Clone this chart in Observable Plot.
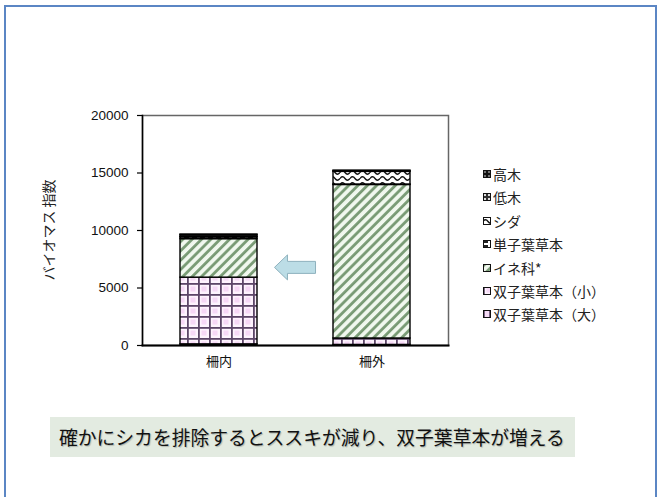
<!DOCTYPE html>
<html>
<head>
<meta charset="utf-8">
<script src="https://cdn.jsdelivr.net/npm/d3@7"></script>
<script src="https://cdn.jsdelivr.net/npm/@observablehq/plot@0.6"></script>
<style>
  html, body { margin: 0; padding: 0; background: #fff; }
  #page { position: relative; width: 664px; height: 497px; overflow: hidden; font-family: "Liberation Sans", "Noto Sans CJK JP", sans-serif; }
  #frame { position: absolute; left: 4px; top: 5px; width: 653px; height: 520px; border: 2px solid #5b86c4; box-sizing: border-box; }
  #chart { position: absolute; left: 0; top: 0; }
  #legend { position: absolute; left: 483px; top: 0; font-family: "Noto Sans CJK JP", sans-serif; font-size: 14px; color: #222; }
  .row { position: absolute; left: 0; white-space: nowrap; display: flex; align-items: center; height: 16px; }
  .row svg { margin-right: 2px; }
  #caption { position: absolute; left: 50px; top: 417px; width: 525px; height: 40px; background: #e3ebe1;
             font-family: "Noto Sans CJK JP", sans-serif; font-size: 18.8px; line-height: 40px; padding-left: 9px; box-sizing: border-box;
             color: #111; text-shadow: 1px 1px 1px rgba(0,0,0,0.22); white-space: nowrap; }
  #defs { position: absolute; width: 0; height: 0; }
</style>
</head>
<body>
<div id="page">
  <div id="frame"></div>
  <svg id="defs" width="0" height="0">
    <defs>
      <!-- 双子葉草本（大）: pink with purple vertical lines -->
      <pattern id="pat-dai" width="6" height="6" patternUnits="userSpaceOnUse">
        <rect width="6" height="6" fill="#f6dcf6"/>
        <line x1="1" y1="0" x2="1" y2="6" stroke="#5c4668" stroke-width="1.6"/>
      </pattern>
      <!-- 双子葉草本（小）: purple grid over pink cells -->
      <pattern id="pat-sho" width="11" height="11" patternUnits="userSpaceOnUse" y="-3">
        <rect width="11" height="11" fill="#fdf3fd"/>
        <rect x="3.5" y="3.5" width="5" height="5" fill="#f6d8f6"/>
        <line x1="0.9" y1="0" x2="0.9" y2="11" stroke="#5c4668" stroke-width="1.8"/>
        <line x1="0" y1="0.9" x2="11" y2="0.9" stroke="#5c4668" stroke-width="1.8"/>
      </pattern>
      <!-- イネ科: green diagonal stripes -->
      <pattern id="pat-ine" width="6.6" height="6.6" patternUnits="userSpaceOnUse" patternTransform="rotate(45)">
        <rect width="6.6" height="6.6" fill="#f1f8ef"/>
        <line x1="1.5" y1="0" x2="1.5" y2="6.6" stroke="#789a74" stroke-width="2.8"/>
      </pattern>
      <!-- 単子葉草本: short black dashes -->
      <pattern id="pat-tan" width="8" height="4" patternUnits="userSpaceOnUse">
        <rect width="8" height="4" fill="#fff"/>
        <rect x="0" y="1" width="5" height="2" fill="#222"/>
      </pattern>
      <!-- シダ: black waves -->
      <pattern id="pat-shida" width="10" height="6" patternUnits="userSpaceOnUse" y="1">
        <rect width="10" height="6" fill="#fff"/>
        <path d="M0,3.5 Q2.5,0 5,3.5 T10,3.5" fill="none" stroke="#111" stroke-width="1.3"/>
      </pattern>
      <!-- 低木: dark with light squares -->
      <pattern id="pat-tei" width="4" height="4" patternUnits="userSpaceOnUse">
        <rect width="4" height="4" fill="#333"/>
        <rect x="1" y="1" width="2" height="2" fill="#ddd"/>
      </pattern>
      <!-- 高木: black with white dots -->
      <pattern id="pat-kou" width="4" height="4" patternUnits="userSpaceOnUse">
        <rect width="4" height="4" fill="#111"/>
        <circle cx="2" cy="2" r="0.8" fill="#eee"/>
      </pattern>
    </defs>
  </svg>
  <div id="chart"></div>
  <div id="legend"></div>
  <div id="caption">確かにシカを排除するとススキが減り、双子葉草本が増える</div>
</div>
<script>
// Plots inside and outside the deer fence
const categories = ["柵内", "柵外"];
// Stack order, bottom to top
const seriesNames = ["双子葉草本（大）", "双子葉草本（小）", "イネ科*", "単子葉草本", "シダ", "低木", "高木"];
const valuesInside = [100, 5800, 3350, 150, 50, 150, 50];
const valuesOutside = [50, 560, 13350, 40, 1100, 60, 50];
const yTicks = [0, 5000, 10000, 15000, 20000];
const yLabel = "バイオマス 指数";
// Arrow between the bars, at this biomass level
const arrowLevel = 6750;

const patterns = {
  "双子葉草本（大）": "url(#pat-dai)",
  "双子葉草本（小）": "url(#pat-sho)",
  "イネ科*": "url(#pat-ine)",
  "単子葉草本": "url(#pat-tan)",
  "シダ": "url(#pat-shida)",
  "低木": "url(#pat-tei)",
  "高木": "url(#pat-kou)"
};

const rows = [];
seriesNames.forEach((s, i) => {
  rows.push({site: categories[0], series: s, value: valuesInside[i]});
  rows.push({site: categories[1], series: s, value: valuesOutside[i]});
});

const chart = Plot.plot({
  width: 664,
  height: 380,
  marginTop: 115,
  marginBottom: 35,
  marginLeft: 142,
  marginRight: 216,
  style: {fontFamily: "'Liberation Sans', 'Noto Sans CJK JP', sans-serif", fontSize: "13.5px", color: "#111", background: "transparent"},
  x: {domain: categories, paddingInner: 0.5, paddingOuter: 0.25, label: null},
  y: {domain: [0, 20000], label: null},
  color: {type: "identity"},
  marks: [
    Plot.frame({stroke: "#666", strokeWidth: 1.5}),
    Plot.barY(rows, {
      x: "site", y: "value", fill: d => patterns[d.series],
      stroke: "#000", strokeWidth: 1.4
    }),
    Plot.axisY({ticks: yTicks, tickFormat: d => String(d), tickSize: 5, tickPadding: 9, stroke: "#000", strokeWidth: 1.2, label: null, fontSize: 13.5}),
    Plot.axisX({tickSize: 0, tickPadding: 11, label: null, fontSize: 13}),
    Plot.frame({anchor: "left", stroke: "#000", strokeWidth: 1.5}),
    Plot.frame({anchor: "bottom", stroke: "#000", strokeWidth: 2})
  ]
});
document.getElementById("chart").appendChild(chart);

const xs = chart.scale("x"), ys = chart.scale("y");

// Y axis title, rotated and centred on the plot height
const yMid = (ys.apply(0) + ys.apply(20000)) / 2;
d3.select(chart).append("text")
  .attr("transform", `translate(48,${yMid}) rotate(-90)`)
  .attr("text-anchor", "middle")
  .attr("dominant-baseline", "central")
  .attr("font-family", "'Noto Sans CJK JP', sans-serif")
  .attr("font-size", 14)
  .attr("fill", "#222")
  .text(yLabel);

// Block arrow pointing from the outside bar towards the inside bar
const gapL = xs.apply(categories[0]) + xs.bandwidth;
const gapR = xs.apply(categories[1]);
const mid = (gapL + gapR) / 2;
const len = (gapR - gapL) * 0.54;
const tip = mid - len / 2, tail = mid + len / 2;
const cy = ys.apply(arrowLevel);
const headLen = 13, bodyH = 6, headH = 12.5;
const arrowPath = d3.path();
arrowPath.moveTo(tip, cy);
arrowPath.lineTo(tip + headLen, cy - headH);
arrowPath.lineTo(tip + headLen, cy - bodyH);
arrowPath.lineTo(tail, cy - bodyH);
arrowPath.lineTo(tail, cy + bodyH);
arrowPath.lineTo(tip + headLen, cy + bodyH);
arrowPath.lineTo(tip + headLen, cy + headH);
arrowPath.closePath();
d3.select(chart).append("path")
  .attr("d", arrowPath.toString())
  .attr("fill", "#bcdde6")
  .attr("stroke", "#8eb1bd")
  .attr("stroke-width", 1);

// Legend, top to bottom
const legend = document.getElementById("legend");
const legendTop = 174, legendStep = 23.4;
seriesNames.slice().reverse().forEach((s, i) => {
  const row = document.createElement("div");
  row.className = "row";
  row.style.top = (legendTop + i * legendStep - 8) + "px";
  row.innerHTML = `<svg width="8" height="8"><rect x="0.5" y="0.5" width="7" height="7" fill="${patterns[s]}" stroke="#111" stroke-width="1"/></svg><span>${s}</span>`;
  legend.appendChild(row);
});
</script>
</body>
</html>
